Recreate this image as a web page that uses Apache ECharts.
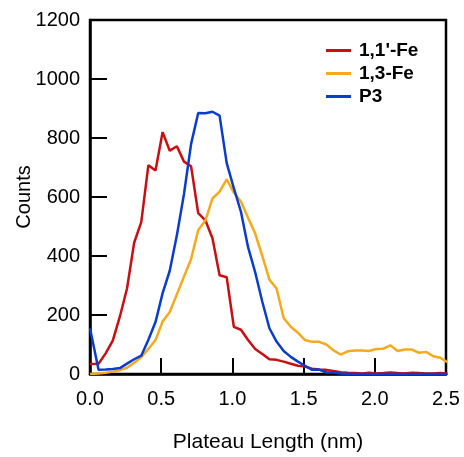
<!DOCTYPE html>
<html>
<head>
<meta charset="utf-8">
<script src="https://cdn.jsdelivr.net/npm/echarts@6/dist/echarts.min.js"></script>
<style>
  html, body { margin: 0; padding: 0; background: #fff; }
  #chart { width: 464px; height: 457px; }
</style>
</head>
<body>
<div id="chart"></div>
<script>
// plateau length bins (nm)
var lengths = [0.00, 0.06, 0.11, 0.16, 0.21, 0.26, 0.31, 0.36, 0.41, 0.46,
               0.51, 0.56, 0.61, 0.66, 0.71, 0.76, 0.81, 0.86, 0.91, 0.96,
               1.01, 1.06, 1.11, 1.16, 1.21, 1.26, 1.31, 1.36, 1.41, 1.46,
               1.51, 1.56, 1.61, 1.66, 1.71, 1.76, 1.81, 1.86, 1.91, 1.96,
               2.01, 2.06, 2.11, 2.16, 2.21, 2.26, 2.31, 2.36, 2.41, 2.46, 2.51];

// 1,1'-Fe
var fe11 = [34, 35, 70, 113, 195, 290, 445, 515, 708, 690,
            820, 757, 772, 720, 704, 545, 521, 460, 335, 328,
            160, 150, 115, 85, 68, 50, 48, 42, 35, 28,
            25, 18, 15, 14, 10, 6, 4, 3, 2, 4,
            2, 3, 5, 3, 2, 4, 3, 2, 2, 3, 2];

// 1,3-Fe
var fe13 = [0, 2, 4, 8, 13, 21, 38, 57, 85, 115,
            178, 210, 270, 330, 390, 488, 520, 595, 618, 660,
            615, 585, 530, 476, 400, 320, 290, 190, 160, 140,
            115, 109, 109, 100, 80, 66, 77, 80, 80, 78,
            85, 86, 97, 78, 83, 83, 72, 75, 60, 55, 40];

// P3
var p3 = [155, 14, 15, 17, 20, 35, 50, 62, 116, 176,
          274, 350, 470, 610, 780, 885, 884, 889, 876, 715,
          630, 550, 430, 345, 245, 155, 110, 78, 58, 42,
          28, 14, 15, 5, 5, 2, 1, 0, 0, 0,
          0, 0, 0, 0, 0, 0, 0, 0, 0, 0, 0];

var seriesNames = ["1,1'-Fe", "1,3-Fe", "P3"];
var seriesColors = ['#c80f14', '#f5a91c', '#0c3ccc'];

var pairs = function(ys){
    var out = [];
    for (var i = 0; i < lengths.length; i++) {
        out.push([lengths[i], ys[i]]);
    }
    return out;
};

var allData = [fe11, fe13, p3];
var series = [];
for (var s = 0; s < allData.length; s++) {
    series.push({
        name: seriesNames[s],
        type: 'line',
        data: pairs(allData[s]),
        showSymbol: false,
        symbol: 'none',
        clip: true,
        lineStyle: { color: seriesColors[s], width: 2.5 },
        itemStyle: { color: seriesColors[s] }
    });
}

var myChart = echarts.init(document.getElementById('chart'), null, { renderer: 'canvas' });
var fontFamily = '"Liberation Sans", Arial, sans-serif';

var option = {
    backgroundColor: '#fff',
    animation: false,
    textStyle: { fontFamily: fontFamily },
    grid: {
        left: 90, right: 18, top: 20, bottom: 83,
        outerBoundsMode: 'none',
        containLabel: false,
        show: true, borderColor: '#000', borderWidth: 2.5,
        backgroundColor: 'transparent'
    },
    legend: {
        orient: 'vertical',
        left: 321, top: 36,
        itemWidth: 25, itemHeight: 3,
        itemGap: 4,
        icon: 'rect',
        data: seriesNames,
        textStyle: {
            fontFamily: fontFamily, fontSize: 19, fontWeight: 'bold', color: '#000',
            padding: [0, 0, 0, 3]
        }
    },
    xAxis: {
        type: 'value',
        min: 0, max: 2.5, interval: 0.5,
        name: 'Plateau Length (nm)',
        nameLocation: 'middle',
        nameGap: 58,
        nameMoveOverlap: false,
        nameTextStyle: { fontSize: 21, color: '#000', fontFamily: fontFamily },
        axisLine: { show: true, lineStyle: { color: '#000', width: 2.5 } },
        axisTick: { show: true, inside: true, length: 16, lineStyle: { color: '#000', width: 2 } },
        axisLabel: {
            fontSize: 20, color: '#000', margin: 15,
            formatter: function(v){ return v.toFixed(1); }
        },
        splitLine: { show: false }
    },
    yAxis: {
        type: 'value',
        min: 0, max: 1200, interval: 200,
        name: 'Counts',
        nameLocation: 'middle',
        nameGap: 56,
        nameMoveOverlap: false,
        nameRotate: 90,
        nameTextStyle: { fontSize: 20, color: '#000', fontFamily: fontFamily },
        axisLine: { show: true, lineStyle: { color: '#000', width: 2.5 } },
        axisTick: { show: true, inside: true, length: 17, lineStyle: { color: '#000', width: 2 } },
        axisLabel: {
            fontSize: 20, color: '#000', margin: 10,
            formatter: function(v){ return String(v); }
        },
        splitLine: { show: false }
    },
    series: series
};
myChart.setOption(option);
</script>
</body>
</html>
